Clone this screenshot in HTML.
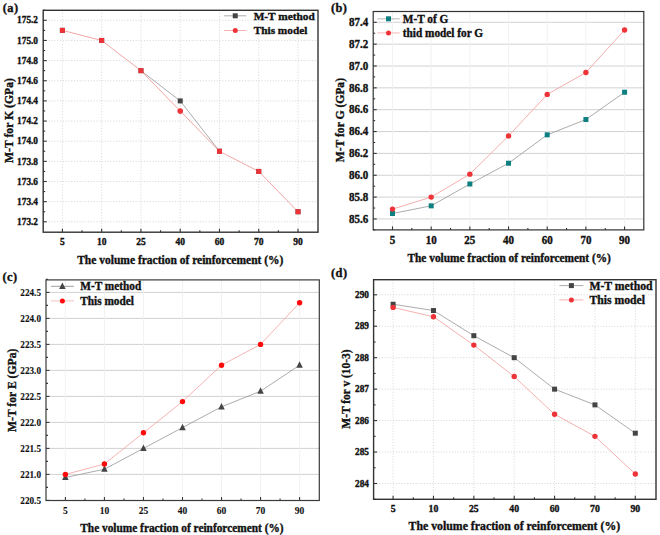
<!DOCTYPE html>
<html><head><meta charset="utf-8"><style>
html,body{margin:0;padding:0;background:#fff;}
body{width:660px;height:535px;overflow:hidden;}
svg{display:block;}
text{font-family:"Liberation Serif", serif;font-weight:bold;fill:#111;stroke:#111;stroke-width:0.35px;}
</style></head><body>
<svg width="660" height="535" viewBox="0 0 660 535">
<rect width="660" height="535" fill="#fff"/>
<line x1="43.20" y1="221.80" x2="318.00" y2="221.80" stroke="#d4d4d4" stroke-width="0.9" stroke-dasharray="1.1,1.7"/>
<line x1="43.20" y1="201.65" x2="318.00" y2="201.65" stroke="#d4d4d4" stroke-width="0.9" stroke-dasharray="1.1,1.7"/>
<line x1="43.20" y1="181.50" x2="318.00" y2="181.50" stroke="#d4d4d4" stroke-width="0.9" stroke-dasharray="1.1,1.7"/>
<line x1="43.20" y1="161.35" x2="318.00" y2="161.35" stroke="#d4d4d4" stroke-width="0.9" stroke-dasharray="1.1,1.7"/>
<line x1="43.20" y1="141.20" x2="318.00" y2="141.20" stroke="#d4d4d4" stroke-width="0.9" stroke-dasharray="1.1,1.7"/>
<line x1="43.20" y1="121.05" x2="318.00" y2="121.05" stroke="#d4d4d4" stroke-width="0.9" stroke-dasharray="1.1,1.7"/>
<line x1="43.20" y1="100.90" x2="318.00" y2="100.90" stroke="#d4d4d4" stroke-width="0.9" stroke-dasharray="1.1,1.7"/>
<line x1="43.20" y1="80.75" x2="318.00" y2="80.75" stroke="#d4d4d4" stroke-width="0.9" stroke-dasharray="1.1,1.7"/>
<line x1="43.20" y1="60.60" x2="318.00" y2="60.60" stroke="#d4d4d4" stroke-width="0.9" stroke-dasharray="1.1,1.7"/>
<line x1="43.20" y1="40.45" x2="318.00" y2="40.45" stroke="#d4d4d4" stroke-width="0.9" stroke-dasharray="1.1,1.7"/>
<line x1="43.20" y1="20.30" x2="318.00" y2="20.30" stroke="#d4d4d4" stroke-width="0.9" stroke-dasharray="1.1,1.7"/>
<line x1="62.40" y1="10.30" x2="62.40" y2="232.20" stroke="#d6d6d6" stroke-width="0.9" stroke-dasharray="1.1,1.7"/>
<line x1="101.67" y1="10.30" x2="101.67" y2="232.20" stroke="#d6d6d6" stroke-width="0.9" stroke-dasharray="1.1,1.7"/>
<line x1="140.94" y1="10.30" x2="140.94" y2="232.20" stroke="#d6d6d6" stroke-width="0.9" stroke-dasharray="1.1,1.7"/>
<line x1="180.21" y1="10.30" x2="180.21" y2="232.20" stroke="#d6d6d6" stroke-width="0.9" stroke-dasharray="1.1,1.7"/>
<line x1="219.48" y1="10.30" x2="219.48" y2="232.20" stroke="#d6d6d6" stroke-width="0.9" stroke-dasharray="1.1,1.7"/>
<line x1="258.75" y1="10.30" x2="258.75" y2="232.20" stroke="#d6d6d6" stroke-width="0.9" stroke-dasharray="1.1,1.7"/>
<line x1="298.02" y1="10.30" x2="298.02" y2="232.20" stroke="#d6d6d6" stroke-width="0.9" stroke-dasharray="1.1,1.7"/>
<polyline points="140.94,70.67 180.21,100.90 219.48,151.27" fill="none" stroke="#969696" stroke-width="0.8"/>
<polyline points="62.40,30.37 101.67,40.45 140.94,70.67 180.21,110.97 219.48,151.27 258.75,171.43 298.02,211.72" fill="none" stroke="#f29c9c" stroke-width="0.9"/>
<rect x="59.90" y="27.87" width="5" height="5" fill="#444"/>
<rect x="99.17" y="37.95" width="5" height="5" fill="#444"/>
<rect x="138.44" y="68.17" width="5" height="5" fill="#444"/>
<rect x="177.71" y="98.40" width="5" height="5" fill="#444"/>
<rect x="216.98" y="148.77" width="5" height="5" fill="#444"/>
<rect x="256.25" y="168.93" width="5" height="5" fill="#444"/>
<rect x="295.52" y="209.22" width="5" height="5" fill="#444"/>
<rect x="59.90" y="27.87" width="5" height="5" fill="#ee3338"/>
<rect x="99.17" y="37.95" width="5" height="5" fill="#ee3338"/>
<rect x="138.44" y="68.17" width="5" height="5" fill="#ee3338"/>
<circle cx="180.21" cy="110.97" r="2.80" fill="#ee3338"/>
<rect x="216.98" y="148.77" width="5" height="5" fill="#ee3338"/>
<rect x="256.25" y="168.93" width="5" height="5" fill="#ee3338"/>
<rect x="295.52" y="209.22" width="5" height="5" fill="#ee3338"/>
<rect x="43.20" y="10.30" width="274.80" height="221.90" fill="none" stroke="#333" stroke-width="1.4"/>
<line x1="43.20" y1="221.80" x2="46.70" y2="221.80" stroke="#333" stroke-width="1.1"/>
<line x1="43.20" y1="201.65" x2="46.70" y2="201.65" stroke="#333" stroke-width="1.1"/>
<line x1="43.20" y1="181.50" x2="46.70" y2="181.50" stroke="#333" stroke-width="1.1"/>
<line x1="43.20" y1="161.35" x2="46.70" y2="161.35" stroke="#333" stroke-width="1.1"/>
<line x1="43.20" y1="141.20" x2="46.70" y2="141.20" stroke="#333" stroke-width="1.1"/>
<line x1="43.20" y1="121.05" x2="46.70" y2="121.05" stroke="#333" stroke-width="1.1"/>
<line x1="43.20" y1="100.90" x2="46.70" y2="100.90" stroke="#333" stroke-width="1.1"/>
<line x1="43.20" y1="80.75" x2="46.70" y2="80.75" stroke="#333" stroke-width="1.1"/>
<line x1="43.20" y1="60.60" x2="46.70" y2="60.60" stroke="#333" stroke-width="1.1"/>
<line x1="43.20" y1="40.45" x2="46.70" y2="40.45" stroke="#333" stroke-width="1.1"/>
<line x1="43.20" y1="20.30" x2="46.70" y2="20.30" stroke="#333" stroke-width="1.1"/>
<line x1="43.20" y1="211.72" x2="45.20" y2="211.72" stroke="#333" stroke-width="1.1"/>
<line x1="43.20" y1="191.57" x2="45.20" y2="191.57" stroke="#333" stroke-width="1.1"/>
<line x1="43.20" y1="171.42" x2="45.20" y2="171.42" stroke="#333" stroke-width="1.1"/>
<line x1="43.20" y1="151.27" x2="45.20" y2="151.27" stroke="#333" stroke-width="1.1"/>
<line x1="43.20" y1="131.12" x2="45.20" y2="131.12" stroke="#333" stroke-width="1.1"/>
<line x1="43.20" y1="110.97" x2="45.20" y2="110.97" stroke="#333" stroke-width="1.1"/>
<line x1="43.20" y1="90.82" x2="45.20" y2="90.82" stroke="#333" stroke-width="1.1"/>
<line x1="43.20" y1="70.67" x2="45.20" y2="70.67" stroke="#333" stroke-width="1.1"/>
<line x1="43.20" y1="50.52" x2="45.20" y2="50.52" stroke="#333" stroke-width="1.1"/>
<line x1="43.20" y1="30.37" x2="45.20" y2="30.37" stroke="#333" stroke-width="1.1"/>
<line x1="43.20" y1="10.22" x2="45.20" y2="10.22" stroke="#333" stroke-width="1.1"/>
<line x1="62.40" y1="232.20" x2="62.40" y2="228.70" stroke="#333" stroke-width="1.1"/>
<line x1="82.03" y1="232.20" x2="82.03" y2="230.20" stroke="#333" stroke-width="1.1"/>
<line x1="101.67" y1="232.20" x2="101.67" y2="228.70" stroke="#333" stroke-width="1.1"/>
<line x1="121.31" y1="232.20" x2="121.31" y2="230.20" stroke="#333" stroke-width="1.1"/>
<line x1="140.94" y1="232.20" x2="140.94" y2="228.70" stroke="#333" stroke-width="1.1"/>
<line x1="160.57" y1="232.20" x2="160.57" y2="230.20" stroke="#333" stroke-width="1.1"/>
<line x1="180.21" y1="232.20" x2="180.21" y2="228.70" stroke="#333" stroke-width="1.1"/>
<line x1="199.85" y1="232.20" x2="199.85" y2="230.20" stroke="#333" stroke-width="1.1"/>
<line x1="219.48" y1="232.20" x2="219.48" y2="228.70" stroke="#333" stroke-width="1.1"/>
<line x1="239.12" y1="232.20" x2="239.12" y2="230.20" stroke="#333" stroke-width="1.1"/>
<line x1="258.75" y1="232.20" x2="258.75" y2="228.70" stroke="#333" stroke-width="1.1"/>
<line x1="278.38" y1="232.20" x2="278.38" y2="230.20" stroke="#333" stroke-width="1.1"/>
<line x1="298.02" y1="232.20" x2="298.02" y2="228.70" stroke="#333" stroke-width="1.1"/>
<text x="38.00" y="224.96" font-size="9.3" text-anchor="end" >173.2</text>
<text x="38.00" y="204.81" font-size="9.3" text-anchor="end" >173.4</text>
<text x="38.00" y="184.66" font-size="9.3" text-anchor="end" >173.6</text>
<text x="38.00" y="164.51" font-size="9.3" text-anchor="end" >173.8</text>
<text x="38.00" y="144.36" font-size="9.3" text-anchor="end" >174.0</text>
<text x="38.00" y="124.21" font-size="9.3" text-anchor="end" >174.2</text>
<text x="38.00" y="104.06" font-size="9.3" text-anchor="end" >174.4</text>
<text x="38.00" y="83.91" font-size="9.3" text-anchor="end" >174.6</text>
<text x="38.00" y="63.76" font-size="9.3" text-anchor="end" >174.8</text>
<text x="38.00" y="43.61" font-size="9.3" text-anchor="end" >175.0</text>
<text x="38.00" y="23.46" font-size="9.3" text-anchor="end" >175.2</text>
<text x="62.40" y="244.80" font-size="9.5" text-anchor="middle" >5</text>
<text x="101.67" y="244.80" font-size="9.5" text-anchor="middle" >10</text>
<text x="140.94" y="244.80" font-size="9.5" text-anchor="middle" >25</text>
<text x="180.21" y="244.80" font-size="9.5" text-anchor="middle" >40</text>
<text x="219.48" y="244.80" font-size="9.5" text-anchor="middle" >60</text>
<text x="258.75" y="244.80" font-size="9.5" text-anchor="middle" >70</text>
<text x="298.02" y="244.80" font-size="9.5" text-anchor="middle" >90</text>
<text x="77.20" y="264.00" font-size="11.5" text-anchor="start" >The volume fraction of reinforcement (%)</text>
<text x="0" y="0" font-size="11.7" text-anchor="middle" transform="translate(13.10,120.50) rotate(-90)">M-T for K (GPa)</text>
<text x="2.80" y="12.00" font-size="12.4" text-anchor="start" letter-spacing="0.4">(a)</text>
<line x1="224.20" y1="15.80" x2="246.30" y2="15.80" stroke="#969696" stroke-width="0.8"/>
<rect x="232.75" y="13.30" width="5" height="5" fill="#444"/>
<text x="253.70" y="19.64" font-size="11.3" text-anchor="start" >M-T method</text>
<line x1="224.20" y1="30.50" x2="246.30" y2="30.50" stroke="#f29c9c" stroke-width="0.8"/>
<circle cx="235.25" cy="30.50" r="2.50" fill="#ee3338"/>
<text x="253.70" y="34.34" font-size="11.3" text-anchor="start" >This model</text>
<line x1="373.20" y1="218.95" x2="643.80" y2="218.95" stroke="#d2d2d2" stroke-width="1" />
<line x1="373.20" y1="197.10" x2="643.80" y2="197.10" stroke="#d2d2d2" stroke-width="1" />
<line x1="373.20" y1="175.25" x2="643.80" y2="175.25" stroke="#d2d2d2" stroke-width="1" />
<line x1="373.20" y1="153.40" x2="643.80" y2="153.40" stroke="#d2d2d2" stroke-width="1" />
<line x1="373.20" y1="131.55" x2="643.80" y2="131.55" stroke="#d2d2d2" stroke-width="1" />
<line x1="373.20" y1="109.70" x2="643.80" y2="109.70" stroke="#d2d2d2" stroke-width="1" />
<line x1="373.20" y1="87.85" x2="643.80" y2="87.85" stroke="#d2d2d2" stroke-width="1" />
<line x1="373.20" y1="66.00" x2="643.80" y2="66.00" stroke="#d2d2d2" stroke-width="1" />
<line x1="373.20" y1="44.15" x2="643.80" y2="44.15" stroke="#d2d2d2" stroke-width="1" />
<line x1="373.20" y1="22.30" x2="643.80" y2="22.30" stroke="#d2d2d2" stroke-width="1" />
<line x1="392.50" y1="11.50" x2="392.50" y2="229.90" stroke="#f0f0f0" stroke-width="0.9" />
<line x1="431.18" y1="11.50" x2="431.18" y2="229.90" stroke="#f0f0f0" stroke-width="0.9" />
<line x1="469.86" y1="11.50" x2="469.86" y2="229.90" stroke="#f0f0f0" stroke-width="0.9" />
<line x1="508.54" y1="11.50" x2="508.54" y2="229.90" stroke="#f0f0f0" stroke-width="0.9" />
<line x1="547.22" y1="11.50" x2="547.22" y2="229.90" stroke="#f0f0f0" stroke-width="0.9" />
<line x1="585.90" y1="11.50" x2="585.90" y2="229.90" stroke="#f0f0f0" stroke-width="0.9" />
<line x1="624.58" y1="11.50" x2="624.58" y2="229.90" stroke="#f0f0f0" stroke-width="0.9" />
<polyline points="392.50,213.49 431.18,205.84 469.86,183.99 508.54,163.23 547.22,134.83 585.90,119.53 624.58,92.22" fill="none" stroke="#959595" stroke-width="0.8"/>
<polyline points="392.50,209.12 431.18,197.10 469.86,174.16 508.54,135.92 547.22,94.41 585.90,72.56 624.58,29.95" fill="none" stroke="#f4a4a4" stroke-width="0.9"/>
<rect x="390.00" y="210.99" width="5" height="5" fill="#0e7f80"/>
<rect x="428.68" y="203.34" width="5" height="5" fill="#0e7f80"/>
<rect x="467.36" y="181.49" width="5" height="5" fill="#0e7f80"/>
<rect x="506.04" y="160.73" width="5" height="5" fill="#0e7f80"/>
<rect x="544.72" y="132.33" width="5" height="5" fill="#0e7f80"/>
<rect x="583.40" y="117.03" width="5" height="5" fill="#0e7f80"/>
<rect x="622.08" y="89.72" width="5" height="5" fill="#0e7f80"/>
<circle cx="392.50" cy="209.12" r="2.70" fill="#ee3338"/>
<circle cx="431.18" cy="197.10" r="2.70" fill="#ee3338"/>
<circle cx="469.86" cy="174.16" r="2.70" fill="#ee3338"/>
<circle cx="508.54" cy="135.92" r="2.70" fill="#ee3338"/>
<circle cx="547.22" cy="94.41" r="2.70" fill="#ee3338"/>
<circle cx="585.90" cy="72.56" r="2.70" fill="#ee3338"/>
<circle cx="624.58" cy="29.95" r="2.70" fill="#ee3338"/>
<rect x="373.20" y="11.50" width="270.60" height="218.40" fill="none" stroke="#333" stroke-width="1.2"/>
<line x1="373.20" y1="218.95" x2="376.70" y2="218.95" stroke="#333" stroke-width="1.1"/>
<line x1="373.20" y1="197.10" x2="376.70" y2="197.10" stroke="#333" stroke-width="1.1"/>
<line x1="373.20" y1="175.25" x2="376.70" y2="175.25" stroke="#333" stroke-width="1.1"/>
<line x1="373.20" y1="153.40" x2="376.70" y2="153.40" stroke="#333" stroke-width="1.1"/>
<line x1="373.20" y1="131.55" x2="376.70" y2="131.55" stroke="#333" stroke-width="1.1"/>
<line x1="373.20" y1="109.70" x2="376.70" y2="109.70" stroke="#333" stroke-width="1.1"/>
<line x1="373.20" y1="87.85" x2="376.70" y2="87.85" stroke="#333" stroke-width="1.1"/>
<line x1="373.20" y1="66.00" x2="376.70" y2="66.00" stroke="#333" stroke-width="1.1"/>
<line x1="373.20" y1="44.15" x2="376.70" y2="44.15" stroke="#333" stroke-width="1.1"/>
<line x1="373.20" y1="22.30" x2="376.70" y2="22.30" stroke="#333" stroke-width="1.1"/>
<line x1="373.20" y1="229.88" x2="375.20" y2="229.88" stroke="#333" stroke-width="1.1"/>
<line x1="373.20" y1="208.03" x2="375.20" y2="208.03" stroke="#333" stroke-width="1.1"/>
<line x1="373.20" y1="186.18" x2="375.20" y2="186.18" stroke="#333" stroke-width="1.1"/>
<line x1="373.20" y1="164.33" x2="375.20" y2="164.33" stroke="#333" stroke-width="1.1"/>
<line x1="373.20" y1="142.48" x2="375.20" y2="142.48" stroke="#333" stroke-width="1.1"/>
<line x1="373.20" y1="120.63" x2="375.20" y2="120.63" stroke="#333" stroke-width="1.1"/>
<line x1="373.20" y1="98.78" x2="375.20" y2="98.78" stroke="#333" stroke-width="1.1"/>
<line x1="373.20" y1="76.92" x2="375.20" y2="76.92" stroke="#333" stroke-width="1.1"/>
<line x1="373.20" y1="55.08" x2="375.20" y2="55.08" stroke="#333" stroke-width="1.1"/>
<line x1="373.20" y1="33.23" x2="375.20" y2="33.23" stroke="#333" stroke-width="1.1"/>
<line x1="392.50" y1="229.90" x2="392.50" y2="226.40" stroke="#333" stroke-width="1.1"/>
<line x1="411.84" y1="229.90" x2="411.84" y2="227.90" stroke="#333" stroke-width="1.1"/>
<line x1="431.18" y1="229.90" x2="431.18" y2="226.40" stroke="#333" stroke-width="1.1"/>
<line x1="450.52" y1="229.90" x2="450.52" y2="227.90" stroke="#333" stroke-width="1.1"/>
<line x1="469.86" y1="229.90" x2="469.86" y2="226.40" stroke="#333" stroke-width="1.1"/>
<line x1="489.20" y1="229.90" x2="489.20" y2="227.90" stroke="#333" stroke-width="1.1"/>
<line x1="508.54" y1="229.90" x2="508.54" y2="226.40" stroke="#333" stroke-width="1.1"/>
<line x1="527.88" y1="229.90" x2="527.88" y2="227.90" stroke="#333" stroke-width="1.1"/>
<line x1="547.22" y1="229.90" x2="547.22" y2="226.40" stroke="#333" stroke-width="1.1"/>
<line x1="566.56" y1="229.90" x2="566.56" y2="227.90" stroke="#333" stroke-width="1.1"/>
<line x1="585.90" y1="229.90" x2="585.90" y2="226.40" stroke="#333" stroke-width="1.1"/>
<line x1="605.24" y1="229.90" x2="605.24" y2="227.90" stroke="#333" stroke-width="1.1"/>
<line x1="624.58" y1="229.90" x2="624.58" y2="226.40" stroke="#333" stroke-width="1.1"/>
<text transform="translate(368.30,222.69) scale(1,1.06)" font-size="11" text-anchor="end" >85.6</text>
<text transform="translate(368.30,200.84) scale(1,1.06)" font-size="11" text-anchor="end" >85.8</text>
<text transform="translate(368.30,178.99) scale(1,1.06)" font-size="11" text-anchor="end" >86.0</text>
<text transform="translate(368.30,157.14) scale(1,1.06)" font-size="11" text-anchor="end" >86.2</text>
<text transform="translate(368.30,135.29) scale(1,1.06)" font-size="11" text-anchor="end" >86.4</text>
<text transform="translate(368.30,113.44) scale(1,1.06)" font-size="11" text-anchor="end" >86.6</text>
<text transform="translate(368.30,91.59) scale(1,1.06)" font-size="11" text-anchor="end" >86.8</text>
<text transform="translate(368.30,69.74) scale(1,1.06)" font-size="11" text-anchor="end" >87.0</text>
<text transform="translate(368.30,47.89) scale(1,1.06)" font-size="11" text-anchor="end" >87.2</text>
<text transform="translate(368.30,26.04) scale(1,1.06)" font-size="11" text-anchor="end" >87.4</text>
<text transform="translate(392.50,243.50) scale(1,1.06)" font-size="11" text-anchor="middle" >5</text>
<text transform="translate(431.18,243.50) scale(1,1.06)" font-size="11" text-anchor="middle" >10</text>
<text transform="translate(469.86,243.50) scale(1,1.06)" font-size="11" text-anchor="middle" >25</text>
<text transform="translate(508.54,243.50) scale(1,1.06)" font-size="11" text-anchor="middle" >40</text>
<text transform="translate(547.22,243.50) scale(1,1.06)" font-size="11" text-anchor="middle" >60</text>
<text transform="translate(585.90,243.50) scale(1,1.06)" font-size="11" text-anchor="middle" >70</text>
<text transform="translate(624.58,243.50) scale(1,1.06)" font-size="11" text-anchor="middle" >90</text>
<text transform="translate(407.50,261.80) scale(1,1.06)" font-size="11.36" text-anchor="start" >The volume fraction of reinforcement (%)</text>
<text x="0" y="0" font-size="11.6" text-anchor="middle" transform="translate(344.20,120.10) rotate(-90)">M-T for G (GPa)</text>
<text x="331.00" y="11.70" font-size="12.4" text-anchor="start" letter-spacing="0.4">(b)</text>
<line x1="377.30" y1="18.80" x2="399.70" y2="18.80" stroke="#c4c4c4" stroke-width="1.2"/>
<rect x="386.00" y="16.30" width="5" height="5" fill="#0e7f80"/>
<text transform="translate(402.80,22.63) scale(1,1.06)" font-size="11.27" text-anchor="start" >M-T of G</text>
<line x1="377.30" y1="32.90" x2="399.70" y2="32.90" stroke="#f6c2c2" stroke-width="1.2"/>
<circle cx="388.50" cy="32.90" r="2.50" fill="#ee3338"/>
<text transform="translate(402.80,36.73) scale(1,1.06)" font-size="11.27" text-anchor="start" >thid model for G</text>
<line x1="46.00" y1="474.40" x2="319.30" y2="474.40" stroke="#d2d2d2" stroke-width="1" />
<line x1="46.00" y1="448.40" x2="319.30" y2="448.40" stroke="#d2d2d2" stroke-width="1" />
<line x1="46.00" y1="422.40" x2="319.30" y2="422.40" stroke="#d2d2d2" stroke-width="1" />
<line x1="46.00" y1="396.40" x2="319.30" y2="396.40" stroke="#d2d2d2" stroke-width="1" />
<line x1="46.00" y1="370.40" x2="319.30" y2="370.40" stroke="#d2d2d2" stroke-width="1" />
<line x1="46.00" y1="344.40" x2="319.30" y2="344.40" stroke="#d2d2d2" stroke-width="1" />
<line x1="46.00" y1="318.40" x2="319.30" y2="318.40" stroke="#d2d2d2" stroke-width="1" />
<line x1="46.00" y1="292.40" x2="319.30" y2="292.40" stroke="#d2d2d2" stroke-width="1" />
<line x1="65.40" y1="279.90" x2="65.40" y2="500.50" stroke="#f0f0f0" stroke-width="0.9" />
<line x1="104.43" y1="279.90" x2="104.43" y2="500.50" stroke="#f0f0f0" stroke-width="0.9" />
<line x1="143.46" y1="279.90" x2="143.46" y2="500.50" stroke="#f0f0f0" stroke-width="0.9" />
<line x1="182.49" y1="279.90" x2="182.49" y2="500.50" stroke="#f0f0f0" stroke-width="0.9" />
<line x1="221.52" y1="279.90" x2="221.52" y2="500.50" stroke="#f0f0f0" stroke-width="0.9" />
<line x1="260.55" y1="279.90" x2="260.55" y2="500.50" stroke="#f0f0f0" stroke-width="0.9" />
<line x1="299.58" y1="279.90" x2="299.58" y2="500.50" stroke="#f0f0f0" stroke-width="0.9" />
<polyline points="65.40,477.52 104.43,469.20 143.46,448.40 182.49,427.60 221.52,406.80 260.55,391.20 299.58,365.20" fill="none" stroke="#959595" stroke-width="0.8"/>
<polyline points="65.40,474.40 104.43,464.00 143.46,432.80 182.49,401.60 221.52,365.20 260.55,344.40 299.58,302.80" fill="none" stroke="#f4a0a0" stroke-width="0.8"/>
<path d="M65.40,473.62 L68.65,480.12 L62.15,480.12Z" fill="#444"/>
<path d="M104.43,465.30 L107.68,471.80 L101.18,471.80Z" fill="#444"/>
<path d="M143.46,444.50 L146.71,451.00 L140.21,451.00Z" fill="#444"/>
<path d="M182.49,423.70 L185.74,430.20 L179.24,430.20Z" fill="#444"/>
<path d="M221.52,402.90 L224.77,409.40 L218.27,409.40Z" fill="#444"/>
<path d="M260.55,387.30 L263.80,393.80 L257.30,393.80Z" fill="#444"/>
<path d="M299.58,361.30 L302.83,367.80 L296.33,367.80Z" fill="#444"/>
<circle cx="65.40" cy="474.40" r="2.70" fill="#ff0a0a"/>
<circle cx="104.43" cy="464.00" r="2.70" fill="#ff0a0a"/>
<circle cx="143.46" cy="432.80" r="2.70" fill="#ff0a0a"/>
<circle cx="182.49" cy="401.60" r="2.70" fill="#ff0a0a"/>
<circle cx="221.52" cy="365.20" r="2.70" fill="#ff0a0a"/>
<circle cx="260.55" cy="344.40" r="2.70" fill="#ff0a0a"/>
<circle cx="299.58" cy="302.80" r="2.70" fill="#ff0a0a"/>
<rect x="46.00" y="279.90" width="273.30" height="220.60" fill="none" stroke="#3a3a3a" stroke-width="1.2"/>
<line x1="46.00" y1="500.40" x2="49.50" y2="500.40" stroke="#3a3a3a" stroke-width="1.1"/>
<line x1="46.00" y1="474.40" x2="49.50" y2="474.40" stroke="#3a3a3a" stroke-width="1.1"/>
<line x1="46.00" y1="448.40" x2="49.50" y2="448.40" stroke="#3a3a3a" stroke-width="1.1"/>
<line x1="46.00" y1="422.40" x2="49.50" y2="422.40" stroke="#3a3a3a" stroke-width="1.1"/>
<line x1="46.00" y1="396.40" x2="49.50" y2="396.40" stroke="#3a3a3a" stroke-width="1.1"/>
<line x1="46.00" y1="370.40" x2="49.50" y2="370.40" stroke="#3a3a3a" stroke-width="1.1"/>
<line x1="46.00" y1="344.40" x2="49.50" y2="344.40" stroke="#3a3a3a" stroke-width="1.1"/>
<line x1="46.00" y1="318.40" x2="49.50" y2="318.40" stroke="#3a3a3a" stroke-width="1.1"/>
<line x1="46.00" y1="292.40" x2="49.50" y2="292.40" stroke="#3a3a3a" stroke-width="1.1"/>
<line x1="46.00" y1="487.40" x2="48.00" y2="487.40" stroke="#3a3a3a" stroke-width="1.1"/>
<line x1="46.00" y1="461.40" x2="48.00" y2="461.40" stroke="#3a3a3a" stroke-width="1.1"/>
<line x1="46.00" y1="435.40" x2="48.00" y2="435.40" stroke="#3a3a3a" stroke-width="1.1"/>
<line x1="46.00" y1="409.40" x2="48.00" y2="409.40" stroke="#3a3a3a" stroke-width="1.1"/>
<line x1="46.00" y1="383.40" x2="48.00" y2="383.40" stroke="#3a3a3a" stroke-width="1.1"/>
<line x1="46.00" y1="357.40" x2="48.00" y2="357.40" stroke="#3a3a3a" stroke-width="1.1"/>
<line x1="46.00" y1="331.40" x2="48.00" y2="331.40" stroke="#3a3a3a" stroke-width="1.1"/>
<line x1="46.00" y1="305.40" x2="48.00" y2="305.40" stroke="#3a3a3a" stroke-width="1.1"/>
<line x1="46.00" y1="279.40" x2="48.00" y2="279.40" stroke="#3a3a3a" stroke-width="1.1"/>
<line x1="65.40" y1="500.50" x2="65.40" y2="497.00" stroke="#3a3a3a" stroke-width="1.1"/>
<line x1="84.92" y1="500.50" x2="84.92" y2="498.50" stroke="#3a3a3a" stroke-width="1.1"/>
<line x1="104.43" y1="500.50" x2="104.43" y2="497.00" stroke="#3a3a3a" stroke-width="1.1"/>
<line x1="123.95" y1="500.50" x2="123.95" y2="498.50" stroke="#3a3a3a" stroke-width="1.1"/>
<line x1="143.46" y1="500.50" x2="143.46" y2="497.00" stroke="#3a3a3a" stroke-width="1.1"/>
<line x1="162.98" y1="500.50" x2="162.98" y2="498.50" stroke="#3a3a3a" stroke-width="1.1"/>
<line x1="182.49" y1="500.50" x2="182.49" y2="497.00" stroke="#3a3a3a" stroke-width="1.1"/>
<line x1="202.00" y1="500.50" x2="202.00" y2="498.50" stroke="#3a3a3a" stroke-width="1.1"/>
<line x1="221.52" y1="500.50" x2="221.52" y2="497.00" stroke="#3a3a3a" stroke-width="1.1"/>
<line x1="241.04" y1="500.50" x2="241.04" y2="498.50" stroke="#3a3a3a" stroke-width="1.1"/>
<line x1="260.55" y1="500.50" x2="260.55" y2="497.00" stroke="#3a3a3a" stroke-width="1.1"/>
<line x1="280.07" y1="500.50" x2="280.07" y2="498.50" stroke="#3a3a3a" stroke-width="1.1"/>
<line x1="299.58" y1="500.50" x2="299.58" y2="497.00" stroke="#3a3a3a" stroke-width="1.1"/>
<text transform="translate(41.00,503.53) scale(1,1.04)" font-size="9.2" text-anchor="end"  style="stroke-width:0.1px">220.5</text>
<text transform="translate(41.00,477.53) scale(1,1.04)" font-size="9.2" text-anchor="end"  style="stroke-width:0.1px">221.0</text>
<text transform="translate(41.00,451.53) scale(1,1.04)" font-size="9.2" text-anchor="end"  style="stroke-width:0.1px">221.5</text>
<text transform="translate(41.00,425.53) scale(1,1.04)" font-size="9.2" text-anchor="end"  style="stroke-width:0.1px">222.0</text>
<text transform="translate(41.00,399.53) scale(1,1.04)" font-size="9.2" text-anchor="end"  style="stroke-width:0.1px">222.5</text>
<text transform="translate(41.00,373.53) scale(1,1.04)" font-size="9.2" text-anchor="end"  style="stroke-width:0.1px">223.0</text>
<text transform="translate(41.00,347.53) scale(1,1.04)" font-size="9.2" text-anchor="end"  style="stroke-width:0.1px">223.5</text>
<text transform="translate(41.00,321.53) scale(1,1.04)" font-size="9.2" text-anchor="end"  style="stroke-width:0.1px">224.0</text>
<text transform="translate(41.00,295.53) scale(1,1.04)" font-size="9.2" text-anchor="end"  style="stroke-width:0.1px">224.5</text>
<text transform="translate(65.40,513.60) scale(1,1.04)" font-size="9.5" text-anchor="middle"  style="stroke-width:0.1px">5</text>
<text transform="translate(104.43,513.60) scale(1,1.04)" font-size="9.5" text-anchor="middle"  style="stroke-width:0.1px">10</text>
<text transform="translate(143.46,513.60) scale(1,1.04)" font-size="9.5" text-anchor="middle"  style="stroke-width:0.1px">25</text>
<text transform="translate(182.49,513.60) scale(1,1.04)" font-size="9.5" text-anchor="middle"  style="stroke-width:0.1px">40</text>
<text transform="translate(221.52,513.60) scale(1,1.04)" font-size="9.5" text-anchor="middle"  style="stroke-width:0.1px">60</text>
<text transform="translate(260.55,513.60) scale(1,1.04)" font-size="9.5" text-anchor="middle"  style="stroke-width:0.1px">70</text>
<text transform="translate(299.58,513.60) scale(1,1.04)" font-size="9.5" text-anchor="middle"  style="stroke-width:0.1px">90</text>
<text transform="translate(80.30,531.80) scale(1,1.04)" font-size="11.35" text-anchor="start" >The volume fraction of reinforcement (%)</text>
<text x="0" y="0" font-size="11.65" text-anchor="middle" transform="translate(16.00,390.30) rotate(-90)">M-T for E (GPa)</text>
<text x="2.50" y="280.70" font-size="12.4" text-anchor="start" letter-spacing="0.4">(c)</text>
<line x1="50.90" y1="286.30" x2="73.90" y2="286.30" stroke="#888" stroke-width="0.8"/>
<path d="M62.40,282.40 L65.65,288.90 L59.15,288.90Z" fill="#444"/>
<text transform="translate(80.30,290.14) scale(1,1.04)" font-size="11.3" text-anchor="start" >M-T method</text>
<line x1="50.90" y1="300.90" x2="73.90" y2="300.90" stroke="#f4b0b0" stroke-width="0.8"/>
<circle cx="62.40" cy="300.90" r="2.50" fill="#ff0a0a"/>
<text transform="translate(80.30,304.74) scale(1,1.04)" font-size="11.3" text-anchor="start" >This model</text>
<line x1="373.60" y1="483.50" x2="656.00" y2="483.50" stroke="#d4d4d4" stroke-width="0.9" stroke-dasharray="1.1,1.7"/>
<line x1="373.60" y1="452.05" x2="656.00" y2="452.05" stroke="#d4d4d4" stroke-width="0.9" stroke-dasharray="1.1,1.7"/>
<line x1="373.60" y1="420.60" x2="656.00" y2="420.60" stroke="#d4d4d4" stroke-width="0.9" stroke-dasharray="1.1,1.7"/>
<line x1="373.60" y1="389.15" x2="656.00" y2="389.15" stroke="#d4d4d4" stroke-width="0.9" stroke-dasharray="1.1,1.7"/>
<line x1="373.60" y1="357.70" x2="656.00" y2="357.70" stroke="#d4d4d4" stroke-width="0.9" stroke-dasharray="1.1,1.7"/>
<line x1="373.60" y1="326.25" x2="656.00" y2="326.25" stroke="#d4d4d4" stroke-width="0.9" stroke-dasharray="1.1,1.7"/>
<line x1="373.60" y1="294.80" x2="656.00" y2="294.80" stroke="#d4d4d4" stroke-width="0.9" stroke-dasharray="1.1,1.7"/>
<line x1="393.10" y1="279.70" x2="393.10" y2="499.30" stroke="#d6d6d6" stroke-width="0.9" stroke-dasharray="1.1,1.7"/>
<line x1="433.47" y1="279.70" x2="433.47" y2="499.30" stroke="#d6d6d6" stroke-width="0.9" stroke-dasharray="1.1,1.7"/>
<line x1="473.84" y1="279.70" x2="473.84" y2="499.30" stroke="#d6d6d6" stroke-width="0.9" stroke-dasharray="1.1,1.7"/>
<line x1="514.21" y1="279.70" x2="514.21" y2="499.30" stroke="#d6d6d6" stroke-width="0.9" stroke-dasharray="1.1,1.7"/>
<line x1="554.58" y1="279.70" x2="554.58" y2="499.30" stroke="#d6d6d6" stroke-width="0.9" stroke-dasharray="1.1,1.7"/>
<line x1="594.95" y1="279.70" x2="594.95" y2="499.30" stroke="#d6d6d6" stroke-width="0.9" stroke-dasharray="1.1,1.7"/>
<line x1="635.32" y1="279.70" x2="635.32" y2="499.30" stroke="#d6d6d6" stroke-width="0.9" stroke-dasharray="1.1,1.7"/>
<polyline points="393.10,304.24 433.47,310.53 473.84,335.69 514.21,357.70 554.58,389.15 594.95,404.88 635.32,433.18" fill="none" stroke="#969696" stroke-width="0.8"/>
<polyline points="393.10,307.38 433.47,316.81 473.84,345.12 514.21,376.57 554.58,414.31 594.95,436.33 635.32,474.06" fill="none" stroke="#f29c9c" stroke-width="0.8"/>
<rect x="390.60" y="301.74" width="5" height="5" fill="#444"/>
<rect x="430.97" y="308.03" width="5" height="5" fill="#444"/>
<rect x="471.34" y="333.19" width="5" height="5" fill="#444"/>
<rect x="511.71" y="355.20" width="5" height="5" fill="#444"/>
<rect x="552.08" y="386.65" width="5" height="5" fill="#444"/>
<rect x="592.45" y="402.38" width="5" height="5" fill="#444"/>
<rect x="632.82" y="430.68" width="5" height="5" fill="#444"/>
<circle cx="393.10" cy="307.38" r="2.70" fill="#ee3338"/>
<circle cx="433.47" cy="316.81" r="2.70" fill="#ee3338"/>
<circle cx="473.84" cy="345.12" r="2.70" fill="#ee3338"/>
<circle cx="514.21" cy="376.57" r="2.70" fill="#ee3338"/>
<circle cx="554.58" cy="414.31" r="2.70" fill="#ee3338"/>
<circle cx="594.95" cy="436.33" r="2.70" fill="#ee3338"/>
<circle cx="635.32" cy="474.06" r="2.70" fill="#ee3338"/>
<rect x="373.60" y="279.70" width="282.40" height="219.60" fill="none" stroke="#333" stroke-width="1.4"/>
<line x1="373.60" y1="483.50" x2="377.10" y2="483.50" stroke="#333" stroke-width="1.1"/>
<line x1="373.60" y1="452.05" x2="377.10" y2="452.05" stroke="#333" stroke-width="1.1"/>
<line x1="373.60" y1="420.60" x2="377.10" y2="420.60" stroke="#333" stroke-width="1.1"/>
<line x1="373.60" y1="389.15" x2="377.10" y2="389.15" stroke="#333" stroke-width="1.1"/>
<line x1="373.60" y1="357.70" x2="377.10" y2="357.70" stroke="#333" stroke-width="1.1"/>
<line x1="373.60" y1="326.25" x2="377.10" y2="326.25" stroke="#333" stroke-width="1.1"/>
<line x1="373.60" y1="294.80" x2="377.10" y2="294.80" stroke="#333" stroke-width="1.1"/>
<line x1="373.60" y1="499.23" x2="375.60" y2="499.23" stroke="#333" stroke-width="1.1"/>
<line x1="373.60" y1="467.77" x2="375.60" y2="467.77" stroke="#333" stroke-width="1.1"/>
<line x1="373.60" y1="436.33" x2="375.60" y2="436.33" stroke="#333" stroke-width="1.1"/>
<line x1="373.60" y1="404.88" x2="375.60" y2="404.88" stroke="#333" stroke-width="1.1"/>
<line x1="373.60" y1="373.43" x2="375.60" y2="373.43" stroke="#333" stroke-width="1.1"/>
<line x1="373.60" y1="341.98" x2="375.60" y2="341.98" stroke="#333" stroke-width="1.1"/>
<line x1="373.60" y1="310.53" x2="375.60" y2="310.53" stroke="#333" stroke-width="1.1"/>
<line x1="393.10" y1="499.30" x2="393.10" y2="495.80" stroke="#333" stroke-width="1.1"/>
<line x1="413.29" y1="499.30" x2="413.29" y2="497.30" stroke="#333" stroke-width="1.1"/>
<line x1="433.47" y1="499.30" x2="433.47" y2="495.80" stroke="#333" stroke-width="1.1"/>
<line x1="453.66" y1="499.30" x2="453.66" y2="497.30" stroke="#333" stroke-width="1.1"/>
<line x1="473.84" y1="499.30" x2="473.84" y2="495.80" stroke="#333" stroke-width="1.1"/>
<line x1="494.03" y1="499.30" x2="494.03" y2="497.30" stroke="#333" stroke-width="1.1"/>
<line x1="514.21" y1="499.30" x2="514.21" y2="495.80" stroke="#333" stroke-width="1.1"/>
<line x1="534.39" y1="499.30" x2="534.39" y2="497.30" stroke="#333" stroke-width="1.1"/>
<line x1="554.58" y1="499.30" x2="554.58" y2="495.80" stroke="#333" stroke-width="1.1"/>
<line x1="574.77" y1="499.30" x2="574.77" y2="497.30" stroke="#333" stroke-width="1.1"/>
<line x1="594.95" y1="499.30" x2="594.95" y2="495.80" stroke="#333" stroke-width="1.1"/>
<line x1="615.13" y1="499.30" x2="615.13" y2="497.30" stroke="#333" stroke-width="1.1"/>
<line x1="635.32" y1="499.30" x2="635.32" y2="495.80" stroke="#333" stroke-width="1.1"/>
<text x="369.00" y="486.66" font-size="9.3" text-anchor="end" >284</text>
<text x="369.00" y="455.21" font-size="9.3" text-anchor="end" >285</text>
<text x="369.00" y="423.76" font-size="9.3" text-anchor="end" >286</text>
<text x="369.00" y="392.31" font-size="9.3" text-anchor="end" >287</text>
<text x="369.00" y="360.86" font-size="9.3" text-anchor="end" >288</text>
<text x="369.00" y="329.41" font-size="9.3" text-anchor="end" >289</text>
<text x="369.00" y="297.96" font-size="9.3" text-anchor="end" >290</text>
<text x="393.10" y="511.70" font-size="9.8" text-anchor="middle" >5</text>
<text x="433.47" y="511.70" font-size="9.8" text-anchor="middle" >10</text>
<text x="473.84" y="511.70" font-size="9.8" text-anchor="middle" >25</text>
<text x="514.21" y="511.70" font-size="9.8" text-anchor="middle" >40</text>
<text x="554.58" y="511.70" font-size="9.8" text-anchor="middle" >60</text>
<text x="594.95" y="511.70" font-size="9.8" text-anchor="middle" >70</text>
<text x="635.32" y="511.70" font-size="9.8" text-anchor="middle" >90</text>
<text x="408.60" y="529.90" font-size="11.8" text-anchor="start" >The volume fraction of reinforcement (%)</text>
<text x="0" y="0" font-size="11.45" text-anchor="middle" transform="translate(349.50,389.00) rotate(-90)">M-T for v (10-3)</text>
<text x="331.10" y="277.30" font-size="12.4" text-anchor="start" letter-spacing="0.4">(d)</text>
<line x1="559.40" y1="285.60" x2="583.40" y2="285.60" stroke="#969696" stroke-width="0.8"/>
<rect x="568.90" y="283.10" width="5" height="5" fill="#444"/>
<text x="589.40" y="289.58" font-size="11.7" text-anchor="start" >M-T method</text>
<line x1="559.40" y1="299.90" x2="583.40" y2="299.90" stroke="#f29c9c" stroke-width="0.8"/>
<circle cx="571.40" cy="299.90" r="2.50" fill="#ee3338"/>
<text x="589.40" y="303.88" font-size="11.7" text-anchor="start" >This model</text>
</svg>
</body></html>
